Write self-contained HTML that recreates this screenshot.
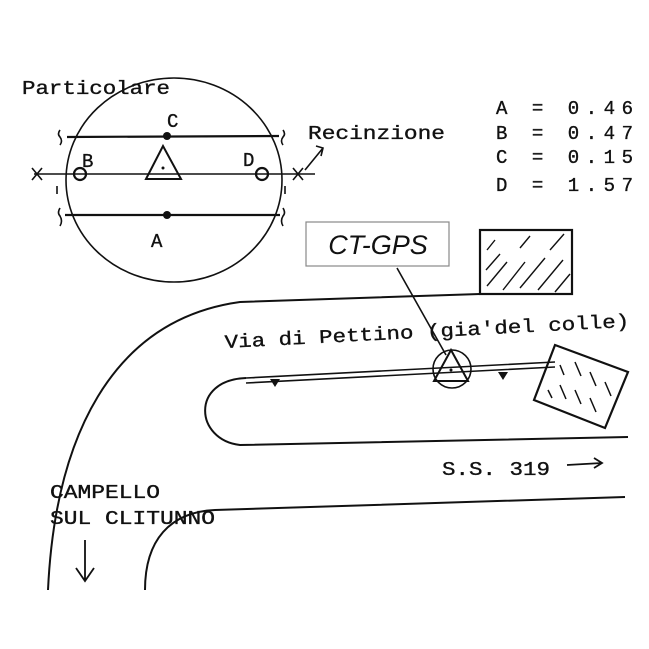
<!DOCTYPE html>
<html><head><style>
body{margin:0;background:#fff}
svg{display:block}
.m{font-family:"Liberation Mono",monospace;font-size:19px;fill:#111;stroke:#111;stroke-width:0.35}
</style></head><body>
<svg width="649" height="649" viewBox="0 0 649 649" xmlns="http://www.w3.org/2000/svg">
<g fill="none" stroke="#111" stroke-width="1.6">
<ellipse cx="174" cy="180" rx="108" ry="102"/>
<line x1="67" y1="137" x2="279" y2="136" stroke-width="2.2"/>
<line x1="34" y1="174" x2="315" y2="174"/>
<line x1="65" y1="215" x2="280" y2="215" stroke-width="2.2"/>
<path d="M146 179 L163 146 L181 179 Z" stroke-width="2"/>
<circle cx="80" cy="174" r="6" stroke-width="2.2"/>
<circle cx="262" cy="174" r="6" stroke-width="2.2"/>
<path d="M32 168 L42 180 M32 180 L42 168 M293 168 L303 180 M293 180 L303 168"/>
<path d="M60 130 q-3 4 0 7 q3 4 0 8 M283 130 q3 4 0 7 q-3 4 0 8 M60 208 q-3 5 0 8 q3 5 0 10 M283 208 q3 5 0 8 q-3 5 0 10 M57 186 l0 8 M285 186 l0 8"/>
<path d="M305 170 L323 148 M316 146 l7 2 l-2 8"/>
<rect x="480" y="230" width="92" height="64" stroke-width="2.2"/>
<path d="M487 250 l8 -10 M486 270 l14 -16 M487 286 l20 -24 M503 290 l22 -28 M520 288 l25 -30 M538 290 l25 -30 M555 292 l15 -18 M520 248 l10 -12 M550 250 l14 -16" stroke-width="1.4"/>
<path d="M48 590 C55 440 110 320 240 302 L480 294" stroke-width="2"/>
<path d="M246 378 L555 362 M246 383 L555 367" stroke-width="1.6"/>
<path d="M246 378 C190 380 195 440 240 445 L628 437" stroke-width="2"/>
<path d="M555 345 L628 372 L605 428 L534 400 Z" stroke-width="2.2"/>
<path d="M560 365 l4 10 M575 362 l6 14 M590 372 l6 14 M605 382 l6 14 M560 385 l6 14 M575 390 l6 14 M590 398 l6 14 M548 390 l4 8" stroke-width="1.5"/>
<circle cx="452" cy="369" r="19" stroke-width="1.6"/>
<path d="M434 381 L451 350 L468 381 Z" stroke-width="2"/>
<line x1="397" y1="268" x2="446" y2="355" stroke-width="1.6"/>
<path d="M145 590 C145 540 170 512 215 510 L625 497" stroke-width="2"/>
<path d="M85 540 L85 580 M76 568 L85 581 L94 568" stroke-width="1.8"/>
<path d="M567 465 L602 463 M594 458 l8 5 l-8 5" stroke-width="1.8"/>
</g>
<g fill="#111">
<circle cx="167" cy="136" r="4"/><circle cx="167" cy="215" r="4"/>
<circle cx="163" cy="168" r="1.5"/><circle cx="451" cy="370" r="1.5"/>
<path d="M270 379 L280 379 L275 387 Z M498 372 L508 372 L503 380 Z"/>
</g>
<rect x="306" y="222" width="143" height="44" fill="#fff" stroke="#888" stroke-width="1.2"/>
<text x="378" y="254" text-anchor="middle" font-family="Liberation Sans,sans-serif" font-style="italic" font-size="27" fill="#111">CT-GPS</text>
<text class="m" x="22" y="94" textLength="148" lengthAdjust="spacingAndGlyphs">Particolare</text>
<text class="m" x="167" y="127">C</text>
<text class="m" x="82" y="167">B</text>
<text class="m" x="243" y="166">D</text>
<text class="m" x="151" y="247">A</text>
<text class="m" x="308" y="139" textLength="137" lengthAdjust="spacingAndGlyphs">Recinzione</text>
<text class="m" x="496" y="114" textLength="137" lengthAdjust="spacing">A = 0.46</text>
<text class="m" x="496" y="139" textLength="137" lengthAdjust="spacing">B = 0.47</text>
<text class="m" x="496" y="163" textLength="137" lengthAdjust="spacing">C = 0.15</text>
<text class="m" x="496" y="191" textLength="137" lengthAdjust="spacing">D = 1.57</text>
<text class="m" x="225" y="348" transform="rotate(-3 225 348)" textLength="405" lengthAdjust="spacingAndGlyphs">Via di Pettino (gia'del colle)</text>
<text class="m" x="442" y="475" textLength="108" lengthAdjust="spacingAndGlyphs">S.S. 319</text>
<text class="m" x="50" y="498" textLength="110" lengthAdjust="spacingAndGlyphs">CAMPELLO</text>
<text class="m" x="50" y="524" textLength="165" lengthAdjust="spacingAndGlyphs">SUL CLITUNNO</text>
</svg>
</body></html>
